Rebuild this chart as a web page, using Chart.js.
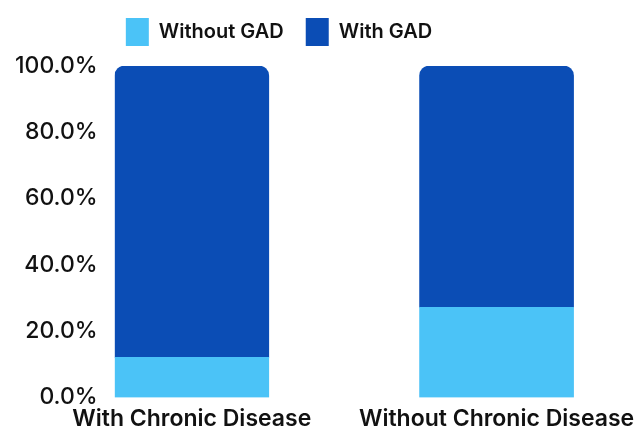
<!DOCTYPE html>
<html>
<head>
<meta charset="utf-8">
<script src="https://cdn.jsdelivr.net/npm/chart.js@4/dist/chart.umd.min.js"></script>
<style>
  html, body { margin: 0; padding: 0; background: #ffffff; }
  #wrap { width: 640px; height: 430px; }
</style>
</head>
<body>
<div id="wrap"><canvas id="chartGad"></canvas></div>
<script>
// datos del gráfico
var categorias = ['With Chronic Disease', 'Without Chronic Disease'];
var sinGad = [12.1, 27.2];   // Without GAD (%)
var conGad = [87.9, 72.8];   // With GAD (%)
var ticksY = [0, 20, 40, 60, 80, 100];

// mover la leyenda (izquierda y arriba), como en la imagen
var leyendaPlugin = {
  id: 'leyendaOffset',
  afterLayout: function (chart) {
    var lg = chart.legend;
    lg.right = lg.right - 86;
    lg.top = lg.top - 10;
    lg.bottom = lg.bottom - 10;
  }
};

function puntos(arr) {
  return arr.map(function (v, i) { return { x: i, y: v }; });
}

new Chart(document.getElementById('chartGad'), {
  type: 'bar',
  data: {
    datasets: [
      {
        label: 'Without GAD',
        data: puntos(sinGad),
        backgroundColor: '#4bc3f7',
        borderWidth: 0,
        barThickness: 154
      },
      {
        label: 'With GAD',
        data: puntos(conGad),
        backgroundColor: '#0b4db5',
        borderWidth: 0,
        barThickness: 154,
        borderRadius: { topLeft: 10, topRight: 10, bottomLeft: 0, bottomRight: 0 },
        borderSkipped: false
      }
    ]
  },
  options: {
    responsive: true,
    maintainAspectRatio: false,
    animation: false,
    layout: { padding: { top: 6, right: 2, left: 6, bottom: -3 } },
    plugins: {
      legend: {
        position: 'top',
        labels: {
          boxWidth: 23,
          boxHeight: 28,
          padding: 22,
          color: '#111111',
          font: { family: 'Inter', size: 20, weight: '600' }
        }
      },
      tooltip: { enabled: false }
    },
    scales: {
      x: {
        type: 'linear',
        stacked: true,
        offset: false,
        min: -0.253,
        max: 1.464,
        grid: { display: false, offset: false },
        border: { display: false },
        afterFit: function (axis) {
          axis.paddingLeft = 0;
          axis.paddingRight = 0;
        },
        ticks: {
          stepSize: 1,
          includeBounds: false,
          maxRotation: 0,
          autoSkip: false,
          padding: 0,
          color: '#111111',
          font: { family: 'Inter', size: 23, weight: '600' },
          callback: function (v) {
            return Number.isInteger(v) ? categorias[v] : '';
          }
        }
      },
      y: {
        stacked: true,
        min: 0,
        max: 100,
        grid: { display: false },
        border: { display: false },
        afterBuildTicks: function (axis) {
          axis.ticks = ticksY.map(function (v) { return { value: v }; });
        },
        ticks: {
          padding: 9,
          color: '#111111',
          font: { family: 'Inter', size: 23, weight: '500' },
          callback: function (v) { return v.toFixed(1) + '%'; }
        }
      }
    }
  },
  plugins: [leyendaPlugin]
});
</script>
</body>
</html>
